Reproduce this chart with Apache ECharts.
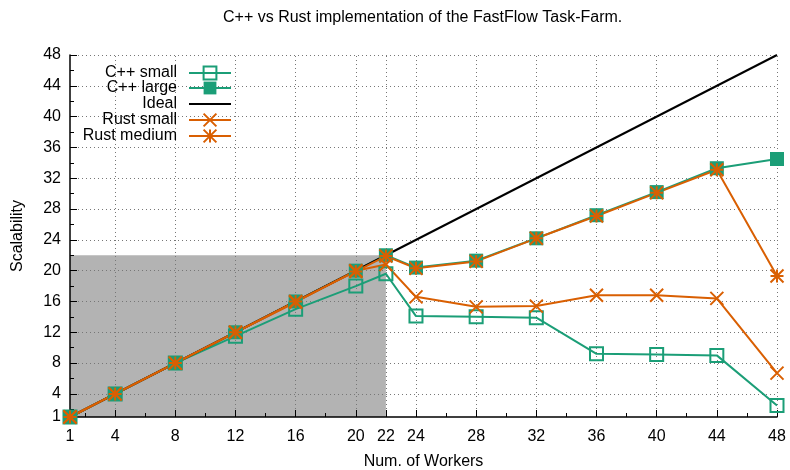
<!DOCTYPE html>
<html>
<head>
<meta charset="utf-8">
<script src="https://cdn.jsdelivr.net/npm/echarts@6/dist/echarts.min.js"></script>
<style>html,body{margin:0;padding:0;background:#fff;}#c{width:790px;height:470px;}</style>
</head>
<body>
<div id="c"></div>
<script>
var workers = [1, 4, 8, 12, 16, 20, 22, 24, 28, 32, 36, 40, 44, 48];
var cppSmall = [1, 4, 8, 11.5, 15.0, 18.0, 19.6, 14.1, 14.0, 13.9, 9.2, 9.1, 9.0, 2.5];
var cppLarge = [1, 4, 8, 12, 16, 20, 22, 20.4, 21.3, 24.2, 27.2, 30.2, 33.3, 34.5];
var rustSmall = [1, 4, 8, 12, 15.9, 20, 20.8, 16.6, 15.3, 15.4, 16.8, 16.8, 16.4, 6.7];
var rustMedium = [1, 4, 8, 12, 16, 19.9, 21.9, 20.3, 21.2, 24.2, 27.1, 30.1, 33.1, 19.3];
var idealX = [1, 48];
var idealY = [1, 48];
var shadeX = [1, 22];
var shadeY = [1, 22];
var xTickLabels = [1, 4, 8, 12, 16, 20, 22, 24, 28, 32, 36, 40, 44, 48];
var xMinorTicks = [2, 6, 10, 14, 18, 26, 30, 34, 38, 42, 46];
var yTickLabels = [1, 4, 8, 12, 16, 20, 24, 28, 32, 36, 40, 44, 48];
var yMinorTicks = [2, 6, 10, 14, 18, 22, 26, 30, 34, 38, 42, 46];
var xGrid = [4, 8, 12, 16, 20, 22, 24, 28, 32, 36, 40, 44, 48];
var yGrid = [4, 8, 12, 16, 20, 24, 28, 32, 36, 40, 44, 48];
var seriesNames = ['C++ small', 'C++ large', 'Ideal', 'Rust small', 'Rust medium'];

var TEAL = '#1b9e77', ORANGE = '#d95f02';
var FONT = 'Liberation Sans';
function pairs(xs, ys) { return xs.map(function (x, i) { return [x, ys[i]]; }); }

var SQ = 'path://M0,0L10,0L10,10L0,10Z';
var CROSS = 'path://M0,0L10,10M10,0L0,10';
var STAR = 'path://M0,0L10,10M10,0L0,10M5,0L5,10M0,5L10,5';

function mainAxis(labels, name, isX) {
  return {
    type: 'value', min: 1, max: 48, z: 2,
    gridIndex: 0,
    position: isX ? 'bottom' : 'left',
    name: name, nameLocation: 'middle', nameGap: isX ? 37 : 44,
    nameTextStyle: { color: '#000', fontSize: 16, fontFamily: FONT },
    axisLine: { show: true, onZero: false, lineStyle: { color: '#000', width: 1.5 } },
    axisTick: { show: true, inside: true, length: 7, customValues: labels, lineStyle: { color: '#000', width: 1 } },
    axisLabel: { show: true, customValues: labels, margin: isX ? 12 : 9, color: '#000', fontSize: 16, fontFamily: FONT },
    splitLine: { show: false },
    minorTick: { show: false }
  };
}
function minorAxis(ticks, isX) {
  return {
    type: 'value', min: 1, max: 48, z: 2, gridIndex: 0,
    position: isX ? 'bottom' : 'left',
    axisLine: { show: false, onZero: false },
    axisTick: { show: true, inside: true, length: 4, customValues: ticks, lineStyle: { color: '#000', width: 1 } },
    axisLabel: { show: false },
    splitLine: { show: false }
  };
}

var legendTops = [65, 80, 96, 112, 128];
var legends = seriesNames.map(function (n, i) {
  return {
    data: [n], orient: 'vertical', right: 558, top: legendTops[i], padding: 0,
    align: 'right', itemWidth: 42, itemHeight: 16, selectedMode: false,
    textStyle: { color: '#000', fontSize: 16, fontFamily: FONT, padding: [0, 7, 0, 0] }
  };
});

var gridLineData = xGrid.map(function (v) { return { xAxis: v }; })
  .concat(yGrid.map(function (v) { return { yAxis: v }; }));

var chart = echarts.init(document.getElementById('c'), null, { renderer: 'canvas' });
chart.setOption({
  animation: false,
  backgroundColor: '#fff',
  title: {
    text: 'C++ vs Rust implementation of the FastFlow Task-Farm.',
    left: 223, top: 10, padding: 0,
    textStyle: { color: '#000', fontSize: 16, fontWeight: 'normal', fontFamily: FONT }
  },
  legend: legends,
  grid: { left: 70, right: 13, top: 55, bottom: 53, containLabel: false, outerBoundsMode: 'none' },
  xAxis: [mainAxis(xTickLabels, 'Num. of Workers', true), minorAxis(xMinorTicks, true)],
  yAxis: [mainAxis(yTickLabels, 'Scalability', false), minorAxis(yMinorTicks, false)],
  series: [
    {
      name: 'shade', type: 'line', data: [], xAxisIndex: 0, yAxisIndex: 0, z: 1,
      markArea: {
        silent: true, z: 1,
        itemStyle: { color: '#b3b3b3', borderWidth: 0 },
        data: [[{ coord: [shadeX[0], shadeY[0]] }, { coord: [shadeX[1], shadeY[1]] }]]
      }
    },
    {
      name: seriesNames[0], type: 'line', z: 3, data: pairs(workers, cppSmall),
      symbol: SQ, symbolSize: 13,
      lineStyle: { color: TEAL, width: 2 },
      itemStyle: { color: 'rgba(0,0,0,0)', borderColor: TEAL, borderWidth: 2 }
    },
    {
      name: seriesNames[1], type: 'line', z: 3, data: pairs(workers, cppLarge),
      symbol: 'rect', symbolSize: 14,
      lineStyle: { color: TEAL, width: 2 },
      itemStyle: { color: TEAL }
    },
    {
      name: seriesNames[2], type: 'line', z: 3, data: pairs(idealX, idealY),
      symbol: 'rect', showSymbol: false,
      lineStyle: { color: '#000', width: 2 },
      itemStyle: { color: 'rgba(0,0,0,0)' },
      markLine: {
        silent: true, z: 2, symbol: ['none', 'none'],
        label: { show: false },
        lineStyle: { color: '#777', width: 1, type: [1, 3] },
        emphasis: { disabled: true },
        data: gridLineData
      }
    },
    {
      name: seriesNames[3], type: 'line', z: 3, data: pairs(workers, rustSmall),
      symbol: CROSS, symbolSize: 13,
      lineStyle: { color: ORANGE, width: 2 },
      itemStyle: { color: 'rgba(0,0,0,0)', borderColor: ORANGE, borderWidth: 2 }
    },
    {
      name: seriesNames[4], type: 'line', z: 3, data: pairs(workers, rustMedium),
      symbol: STAR, symbolSize: 13,
      lineStyle: { color: ORANGE, width: 2 },
      itemStyle: { color: 'rgba(0,0,0,0)', borderColor: ORANGE, borderWidth: 2 }
    }
  ]
});
</script>
</body>
</html>
